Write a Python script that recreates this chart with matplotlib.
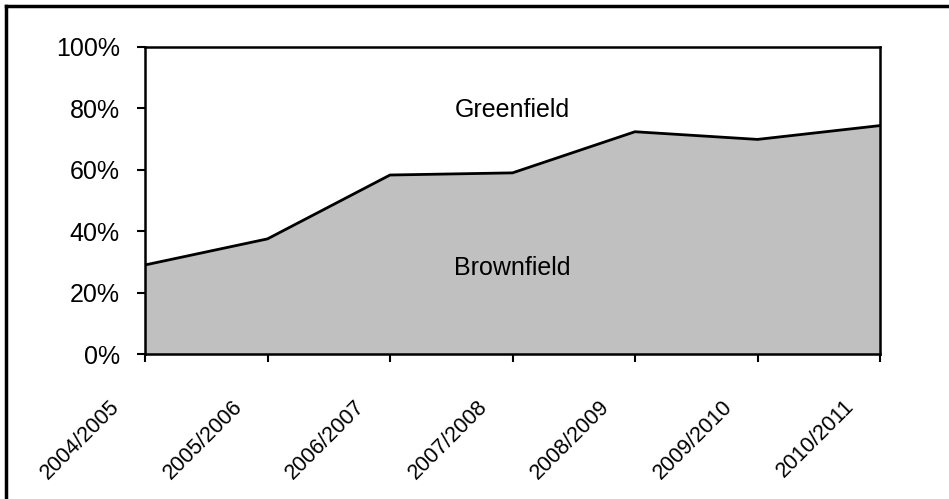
import matplotlib
matplotlib.use("Agg")
import matplotlib.pyplot as plt
from matplotlib import font_manager
from matplotlib.lines import Line2D
from matplotlib.transforms import offset_copy

# Share of development on brownfield land, by year
years = ["2004/2005", "2005/2006", "2006/2007", "2007/2008",
         "2008/2009", "2009/2010", "2010/2011"]
brownfield = [0.29, 0.375, 0.583, 0.59, 0.724, 0.699, 0.744]
y_ticks = [0, 0.2, 0.4, 0.6, 0.8, 1.0]
y_labels = ["0%", "20%", "40%", "60%", "80%", "100%"]

names = {f.name for f in font_manager.fontManager.ttflist}
font = "Liberation Sans" if "Liberation Sans" in names else "DejaVu Sans"
plt.rcParams["font.family"] = font

fig = plt.figure(figsize=(9.49, 4.99), dpi=100)
ax = fig.add_axes([145 / 949, 1 - 354 / 499, 735 / 949, 307 / 499])

x = list(range(len(years)))
ax.fill_between(x, 0, brownfield, color="#c0c0c0", linewidth=0)
ax.plot(x, brownfield, color="black", linewidth=2)

ax.set_xlim(0, len(years) - 1)
ax.set_ylim(0, 1)
ax.set_yticks(y_ticks)
ax.set_yticklabels(y_labels, fontsize=18)
ax.set_xticks(x)
ax.set_xticklabels([])
ax.tick_params(axis="both", direction="out", length=6, width=1.5, color="black")
ax.tick_params(axis="y", pad=12)
for s in ax.spines.values():
    s.set_linewidth(1.8)

# rotated category labels, shifted like the original
for i, lab in enumerate(years):
    tr = offset_copy(ax.get_xaxis_transform(), fig=fig, x=-36, y=-42, units="dots")
    ax.text(i, 0, lab, transform=tr, rotation=45, rotation_mode="anchor",
            ha="right", va="top", fontsize=15.5)

ax.text(3, 0.795, "Greenfield", ha="center", va="center", fontsize=18)
ax.text(3, 0.28, "Brownfield", ha="center", va="center", fontsize=18)

# border on left and top of the chart
fig.add_artist(Line2D([6 / 949, 6 / 949], [0, 1 - 6 / 499], color="black",
                      linewidth=2.5, transform=fig.transFigure))
fig.add_artist(Line2D([6 / 949, 1], [1 - 6 / 499, 1 - 6 / 499], color="black",
                      linewidth=2.5, transform=fig.transFigure))

fig.savefig("out.png", dpi=100)
